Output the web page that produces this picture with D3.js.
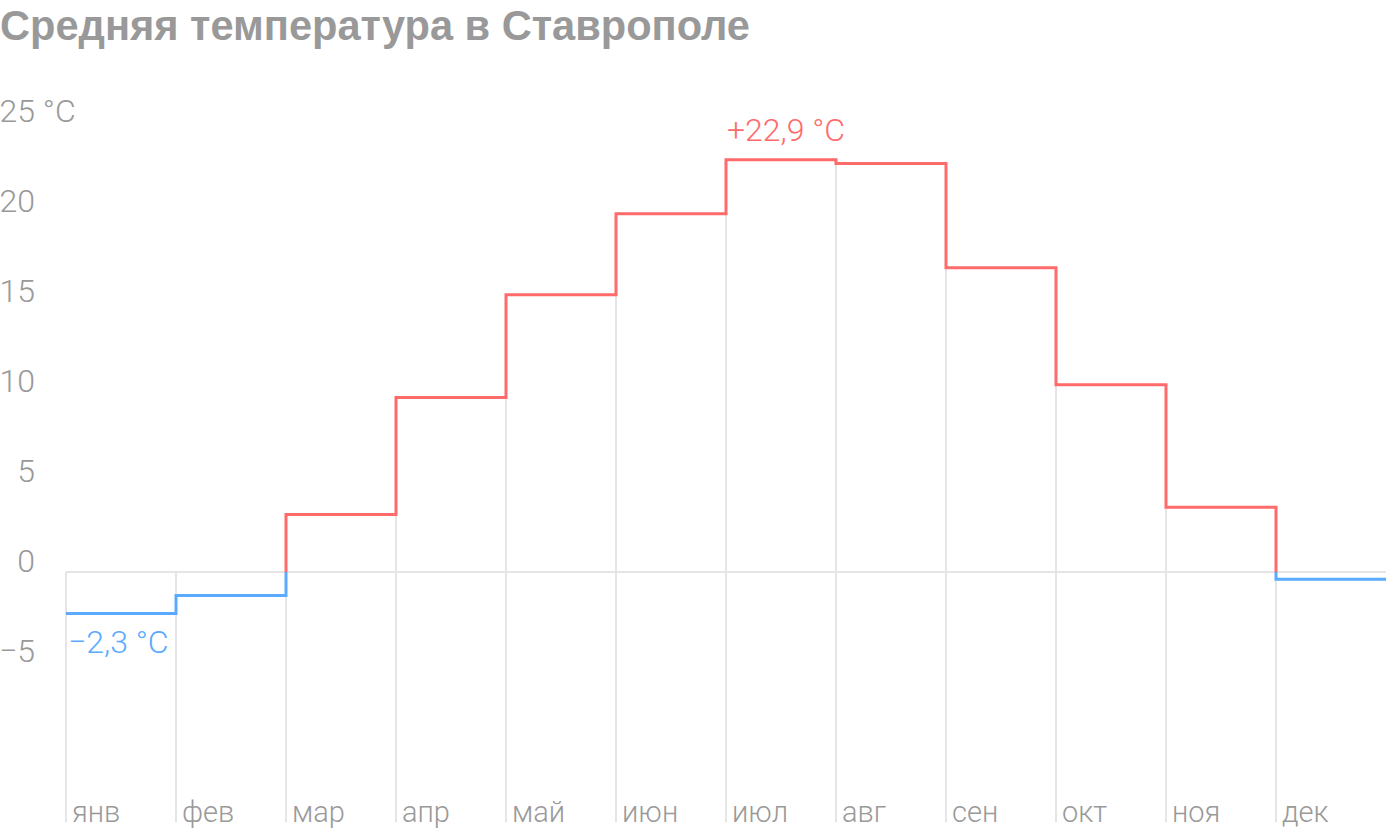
<!DOCTYPE html>
<html><head><meta charset="utf-8">
<script src="https://cdn.jsdelivr.net/npm/d3@7/dist/d3.min.js"></script>
<style>
html,body{margin:0;padding:0;background:#fff;}
svg{display:block;font-family:Roboto,"Noto Sans",sans-serif;}
</style></head>
<body>
<script>
const title = "Средняя температура в Ставрополе";
const months = ["янв","фев","мар","апр","май","июн","июл","авг","сен","окт","ноя","дек"];
const temps = [-2.3,-1.3,3.2,9.7,15.4,19.9,22.9,22.7,16.9,10.4,3.6,-0.4];
const yTicks = [25,20,15,10,5,0,-5];
const yDomain = [-13.9, 25];
const maxLabel = "+22,9 °C";
const minLabel = "−2,3 °C";

const W = 1400, H = 832;
const red = "#ff6b6b", blue = "#5aabff", grid = "#e5e5e5", gray = "#999999";
const lightW = 300;

const svg = d3.select("body").append("svg").attr("width", W).attr("height", H);

const x = d3.scaleLinear().domain([0, months.length]).range([66, 1386]);
const y = d3.scaleLinear().domain([0, 25]).range([572, 122]);

// title
svg.append("text").attr("x", 0).attr("y", 40)
  .attr("font-family", "'Liberation Sans', Arial, sans-serif")
  .attr("font-weight", "bold").attr("font-size", 43).attr("fill", gray)
  .attr("textLength", 750).attr("lengthAdjust", "spacingAndGlyphs")
  .text(title);

// vertical grid lines
svg.append("g").selectAll("line").data(months).join("line")
  .attr("x1", (d,i) => x(i)).attr("x2", (d,i) => x(i))
  .attr("y1", y(yDomain[0]))
  .attr("y2", (d,i) => y(Math.max(0, temps[i], i > 0 ? temps[i-1] : 0)))
  .attr("stroke", grid).attr("stroke-width", 2);

// zero line
svg.append("line").attr("x1", x(0)).attr("x2", x(months.length))
  .attr("y1", y(0)).attr("y2", y(0)).attr("stroke", grid).attr("stroke-width", 2);

// y tick labels
const fmt = d => (d < 0 ? "−" + Math.abs(d) : String(d));
svg.append("g").selectAll("text").data(yTicks).join("text")
  .attr("y", d => y(d))
  .attr("font-size", 32).attr("font-weight", lightW).attr("fill", gray)
  .text(fmt)
  .attr("x", function(d){
    return 35 - this.getComputedTextLength();
  })
  .each(function(d){
    if (d === 25) d3.select(this).append("tspan").text(" °C");
  });

// month labels
svg.append("g").selectAll("text").data(months).join("text")
  .attr("x", (d,i) => x(i) + 6).attr("y", 822)
  .attr("font-size", 29).attr("font-weight", lightW).attr("fill", gray).text(d => d);

// step line
const pts = temps.map((v,i) => [i, v]).concat([[temps.length, temps[temps.length-1]]]);
const line = d3.line().x(d => x(d[0])).y(d => y(d[1])).curve(d3.curveStepAfter);
const defs = svg.append("defs");
defs.append("clipPath").attr("id","above").append("rect")
  .attr("x", 0).attr("y", 0).attr("width", W).attr("height", y(0));
defs.append("clipPath").attr("id","below").append("rect")
  .attr("x", 0).attr("y", y(0)).attr("width", W).attr("height", H - y(0));
svg.append("path").attr("d", line(pts)).attr("fill","none")
  .attr("stroke", red).attr("stroke-width", 3).attr("clip-path","url(#above)");
svg.append("path").attr("d", line(pts)).attr("fill","none")
  .attr("stroke", blue).attr("stroke-width", 3).attr("clip-path","url(#below)");

// annotations
const iMax = temps.indexOf(d3.max(temps));
const iMin = temps.indexOf(d3.min(temps));
svg.append("text").attr("x", x(iMax) + 1).attr("y", y(temps[iMax]) - 19)
  .attr("font-size", 32).attr("font-weight", lightW).attr("fill", red).text(maxLabel);
svg.append("text").attr("x", x(iMin) + 2).attr("y", y(temps[iMin]) + 40)
  .attr("font-size", 32).attr("font-weight", lightW).attr("fill", blue).text(minLabel);
</script>
</body></html>
